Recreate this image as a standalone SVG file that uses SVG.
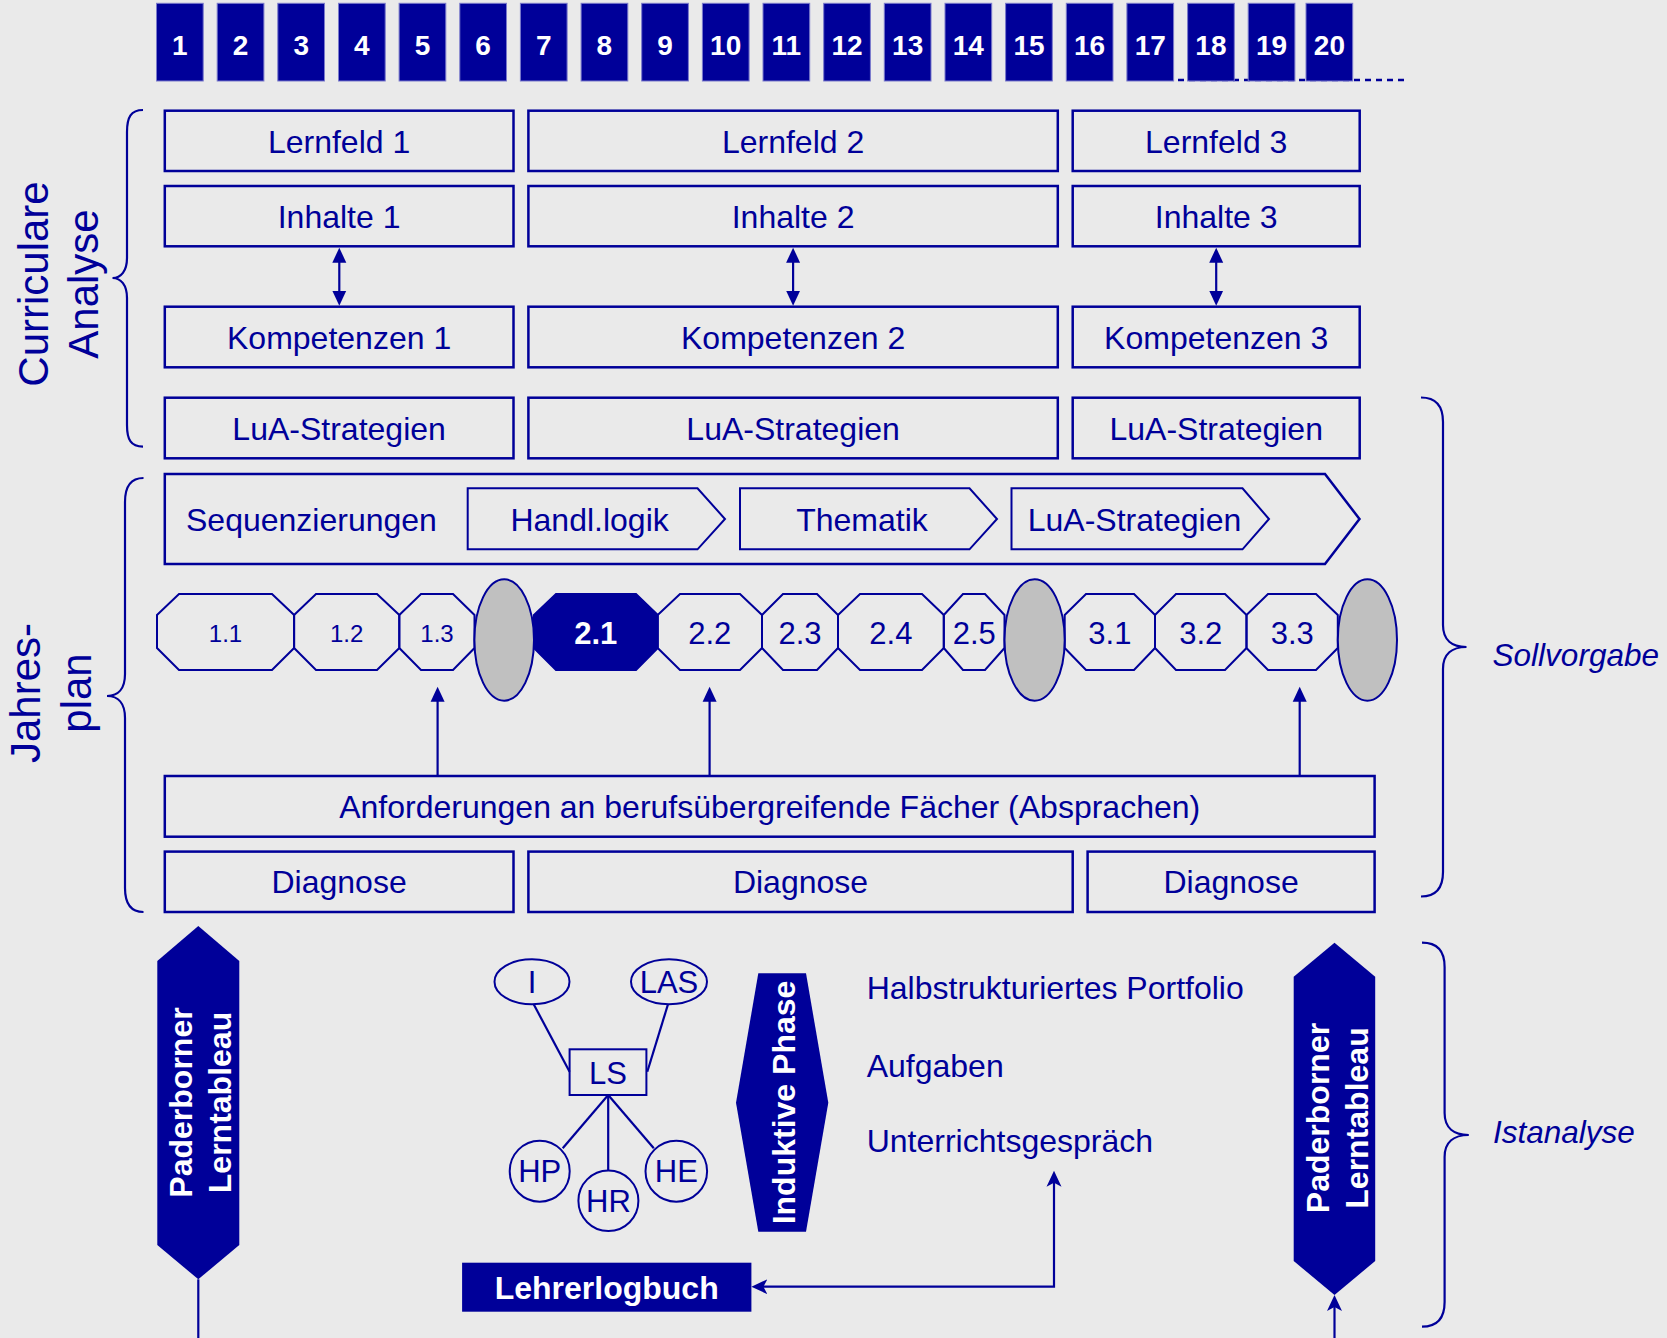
<svg xmlns="http://www.w3.org/2000/svg" width="1667" height="1338" viewBox="0 0 1667 1338">
<style>
.bg{fill:#EAEAEA}
.box{fill:none;stroke:#000099;stroke-width:2.5}
.t{font-family:"Liberation Sans",Arial,sans-serif;font-size:32px;fill:#000099;text-anchor:middle}
.ts{font-size:24px}
.tm{font-size:31px}
.big{font-size:42px}
.it{font-style:italic;text-anchor:start;font-size:31.5px}
.st{text-anchor:start}
.w{fill:#fff;font-weight:bold}
.num rect{fill:#000099;stroke:#7a7acc;stroke-width:1}
.num text{font-family:"Liberation Sans",Arial,sans-serif;fill:#fff;font-weight:bold;font-size:28px;text-anchor:middle}
.fillb{fill:#000099;stroke:none}
.oct{fill:none;stroke:#000099;stroke-width:2}
.ell{fill:#C0C0C0;stroke:#000099;stroke-width:2}
.conn{stroke:#000099;stroke-width:2.2;fill:none}
.brace{stroke:#000099;stroke-width:2.2;fill:none}
.node{fill:none;stroke:#000099;stroke-width:2}
</style>
<defs>
<marker id="tri" markerUnits="userSpaceOnUse" markerWidth="16" markerHeight="16" viewBox="0 0 16 16" refX="7" refY="8" orient="auto-start-reverse">
<path d="M0,1 L15,8 L0,15 z" fill="#000099"/>
</marker>
<marker id="stealth" markerUnits="userSpaceOnUse" markerWidth="17" markerHeight="16" viewBox="0 0 17 16" refX="8" refY="8" orient="auto-start-reverse">
<path d="M0,0.5 L16,8 L0,15.5 L4,8 z" fill="#000099"/>
</marker>
</defs>
<rect class="bg" x="0" y="0" width="1667" height="1338"/>

<!-- week numbers -->
<line x1="1178" y1="80" x2="1407" y2="80" stroke="#000099" stroke-width="2.4" stroke-dasharray="6,5"/>
<g id="weeks" class="num">
<g id="w1"><rect x="156.5" y="3.3" width="46.7" height="77.7"/><text x="179.9" y="55">1</text></g>
<g id="w2"><rect x="217.2" y="3.3" width="46.7" height="77.7"/><text x="240.5" y="55">2</text></g>
<g id="w3"><rect x="277.8" y="3.3" width="46.7" height="77.7"/><text x="301.2" y="55">3</text></g>
<g id="w4"><rect x="338.5" y="3.3" width="46.7" height="77.7"/><text x="361.8" y="55">4</text></g>
<g id="w5"><rect x="399.1" y="3.3" width="46.7" height="77.7"/><text x="422.5" y="55">5</text></g>
<g id="w6"><rect x="459.8" y="3.3" width="46.7" height="77.7"/><text x="483.1" y="55">6</text></g>
<g id="w7"><rect x="520.4" y="3.3" width="46.7" height="77.7"/><text x="543.8" y="55">7</text></g>
<g id="w8"><rect x="581.1" y="3.3" width="46.7" height="77.7"/><text x="604.4" y="55">8</text></g>
<g id="w9"><rect x="641.7" y="3.3" width="46.7" height="77.7"/><text x="665.1" y="55">9</text></g>
<g id="w10"><rect x="702.4" y="3.3" width="46.7" height="77.7"/><text x="725.7" y="55">10</text></g>
<g id="w11"><rect x="763.0" y="3.3" width="46.7" height="77.7"/><text x="786.4" y="55">11</text></g>
<g id="w12"><rect x="823.7" y="3.3" width="46.7" height="77.7"/><text x="847.0" y="55">12</text></g>
<g id="w13"><rect x="884.3" y="3.3" width="46.7" height="77.7"/><text x="907.7" y="55">13</text></g>
<g id="w14"><rect x="945.0" y="3.3" width="46.7" height="77.7"/><text x="968.3" y="55">14</text></g>
<g id="w15"><rect x="1005.6" y="3.3" width="46.7" height="77.7"/><text x="1029.0" y="55">15</text></g>
<g id="w16"><rect x="1066.3" y="3.3" width="46.7" height="77.7"/><text x="1089.6" y="55">16</text></g>
<g id="w17"><rect x="1126.9" y="3.3" width="46.7" height="77.7"/><text x="1150.3" y="55">17</text></g>
<g id="w18"><rect x="1187.6" y="3.3" width="46.7" height="77.7"/><text x="1210.9" y="55">18</text></g>
<g id="w19"><rect x="1248.2" y="3.3" width="46.7" height="77.7"/><text x="1271.6" y="55">19</text></g>
<g id="w20"><rect x="1306" y="3.3" width="46.7" height="77.7"/><text x="1329.4" y="55">20</text></g>
</g>

<!-- side labels -->
<g id="label-curriculare">
<text class="t big" transform="translate(48,284) rotate(-90)">Curriculare</text>
<text class="t big" transform="translate(98,284) rotate(-90)">Analyse</text>
</g>
<g id="label-jahresplan">
<text class="t big" transform="translate(40,693) rotate(-90)">Jahres-</text>
<text class="t big" transform="translate(90.7,693) rotate(-90)">plan</text>
</g>

<!-- braces -->
<g id="braces">
<path class="brace" d="M143,110 C131,110 127,117 127,132 L127,258 C127,271 121,278 112.5,278 C121,278 127,285 127,298 L127,425 C127,440 131,446.7 143,446.7"/>
<path class="brace" d="M143.5,478 C131,478 125,486 125,502 L125,674 C125,689 118,696 107,696 C118,696 125,703 125,718 L125,888 C125,904 131,912 143.5,912"/>
<path class="brace" d="M1421,397.5 C1435,397.5 1443,405 1443,422 L1443,625 C1443,640 1452,647 1466.5,647 C1452,647 1443,654 1443,669 L1443,872 C1443,889 1435,896.5 1421,896.5"/>
<path class="brace" d="M1422,942.7 C1436,942.7 1444.6,950 1444.6,967 L1444.6,1113 C1444.6,1128 1454,1135 1468.8,1135 C1454,1135 1444.6,1142 1444.6,1157 L1444.6,1302 C1444.6,1319 1436,1326.7 1422,1326.7"/>
</g>
<g id="label-sollvorgabe"><text class="t it" x="1492.6" y="666">Sollvorgabe</text></g>
<g id="label-istanalyse"><text class="t it" x="1493" y="1143.3">Istanalyse</text></g>

<!-- curricular rows -->
<g id="lernfeld1"><rect class="box" x="164.8" y="110.7" width="348.7" height="60.3"/><text class="t" x="339.1" y="152.5">Lernfeld 1</text></g>
<g id="lernfeld2"><rect class="box" x="528.4" y="110.7" width="529.4" height="60.3"/><text class="t" x="793.1" y="152.5">Lernfeld 2</text></g>
<g id="lernfeld3"><rect class="box" x="1072.7" y="110.7" width="287" height="60.3"/><text class="t" x="1216.2" y="152.5">Lernfeld 3</text></g>

<g id="inhalte1"><rect class="box" x="164.8" y="186" width="348.7" height="60.3"/><text class="t" x="339.1" y="227.5">Inhalte 1</text></g>
<g id="inhalte2"><rect class="box" x="528.4" y="186" width="529.4" height="60.3"/><text class="t" x="793.1" y="227.5">Inhalte 2</text></g>
<g id="inhalte3"><rect class="box" x="1072.7" y="186" width="287" height="60.3"/><text class="t" x="1216.2" y="227.5">Inhalte 3</text></g>

<g id="kompetenzen1"><rect class="box" x="164.8" y="306.7" width="348.7" height="60.6"/><text class="t" x="339.1" y="348.5">Kompetenzen 1</text></g>
<g id="kompetenzen2"><rect class="box" x="528.4" y="306.7" width="529.4" height="60.6"/><text class="t" x="793.1" y="348.5">Kompetenzen 2</text></g>
<g id="kompetenzen3"><rect class="box" x="1072.7" y="306.7" width="287" height="60.6"/><text class="t" x="1216.2" y="348.5">Kompetenzen 3</text></g>

<g id="lua1"><rect class="box" x="164.8" y="397.7" width="348.7" height="60.6"/><text class="t" x="339.1" y="439.5">LuA-Strategien</text></g>
<g id="lua2"><rect class="box" x="528.4" y="397.7" width="529.4" height="60.6"/><text class="t" x="793.1" y="439.5">LuA-Strategien</text></g>
<g id="lua3"><rect class="box" x="1072.7" y="397.7" width="287" height="60.6"/><text class="t" x="1216.2" y="439.5">LuA-Strategien</text></g>

<!-- Sequenzierungen -->
<g id="sequenzierungen">
<path class="box" d="M164.8,474 L1325,474 L1359.5,519 L1325,564 L164.8,564 Z"/>
<text class="t st" x="186" y="530.5">Sequenzierungen</text>
</g>
<g id="handllogik"><path class="node" d="M467.7,488.3 L697.5,488.3 L725,519 L697.5,549.3 L467.7,549.3 Z"/><text class="t" x="589.6" y="530.5">Handl.logik</text></g>
<g id="thematik"><path class="node" d="M740,488.3 L969.5,488.3 L997,519 L969.5,549.3 L740,549.3 Z"/><text class="t" x="862" y="530.5">Thematik</text></g>
<g id="luasequenz"><path class="node" d="M1011.5,488.3 L1242.5,488.3 L1269,519 L1242.5,549.3 L1011.5,549.3 Z"/><text class="t" x="1134.5" y="530.5">LuA-Strategien</text></g>

<!-- octagon sequence -->
<g id="ls11"><polygon class="oct" points="157,615 179,594 272,594 294.1,615 294.1,648 272,670 179,670 157,648"/><text class="t ts" x="225.5" y="641.5">1.1</text></g>
<g id="ls12"><polygon class="oct" points="294.1,615 316,594 377,594 399.3,615 399.3,648 377,670 316,670 294.1,648"/><text class="t ts" x="346.7" y="641.5">1.2</text></g>
<g id="ls13"><polygon class="oct" points="399.3,615 421,594 453,594 474.5,615 474.5,648 453,670 421,670 399.3,648"/><text class="t ts" x="437" y="641.5">1.3</text></g>
<g id="ls21"><polygon points="534,615 556,594 636,594 657.7,615 657.7,648 636,670 556,670 534,648" fill="#000099" stroke="#000099" stroke-width="2"/><text class="t tm w" x="595.8" y="644">2.1</text></g>
<g id="ls22"><polygon class="oct" points="657.7,615 680,594 740,594 762,615 762,648 740,670 680,670 657.7,648"/><text class="t tm" x="709.8" y="644">2.2</text></g>
<g id="ls23"><polygon class="oct" points="762,615 783,594 817,594 838,615 838,648 817,670 783,670 762,648"/><text class="t tm" x="800" y="644">2.3</text></g>
<g id="ls24"><polygon class="oct" points="838,615 860,594 922,594 943.8,615 943.8,648 922,670 860,670 838,648"/><text class="t tm" x="890.9" y="644">2.4</text></g>
<g id="ls25"><polygon class="oct" points="943.8,615 963,594 985,594 1004.5,615 1004.5,648 985,670 963,670 943.8,648"/><text class="t tm" x="974.2" y="644">2.5</text></g>
<g id="ls31"><polygon class="oct" points="1064.7,615 1086,594 1134,594 1155,615 1155,648 1134,670 1086,670 1064.7,648"/><text class="t tm" x="1109.9" y="644">3.1</text></g>
<g id="ls32"><polygon class="oct" points="1155,615 1176,594 1225,594 1246.5,615 1246.5,648 1225,670 1176,670 1155,648"/><text class="t tm" x="1200.8" y="644">3.2</text></g>
<g id="ls33"><polygon class="oct" points="1246.5,615 1268,594 1316,594 1337.8,615 1337.8,648 1316,670 1268,670 1246.5,648"/><text class="t tm" x="1292.2" y="644">3.3</text></g>
<g id="pause1"><ellipse class="ell" cx="504.2" cy="640" rx="29.8" ry="60.7"/></g>
<g id="pause2"><ellipse class="ell" cx="1034.6" cy="640" rx="30.1" ry="60.7"/></g>
<g id="pause3"><ellipse class="ell" cx="1367.4" cy="640" rx="29.6" ry="60.7"/></g>

<!-- Anforderungen / Diagnose -->
<g id="anforderungen"><rect class="box" x="164.8" y="776" width="1209.8" height="60.7"/><text class="t" x="769.7" y="817.5">Anforderungen an berufsübergreifende Fächer (Absprachen)</text></g>
<g id="diagnose1"><rect class="box" x="164.8" y="851.6" width="348.7" height="60.4"/><text class="t" x="339.1" y="893">Diagnose</text></g>
<g id="diagnose2"><rect class="box" x="528.4" y="851.6" width="544.3" height="60.4"/><text class="t" x="800.5" y="893">Diagnose</text></g>
<g id="diagnose3"><rect class="box" x="1087.6" y="851.6" width="287" height="60.4"/><text class="t" x="1231.1" y="893">Diagnose</text></g>

<!-- bottom section -->
<g id="paderborner-left">
<polygon class="fillb" points="198.3,926 239.3,961 239.3,1245 198.3,1279.3 157.3,1245 157.3,961"/>
<text class="t w" transform="translate(192,1102.5) rotate(-90)">Paderborner</text>
<text class="t w" transform="translate(231,1102.5) rotate(-90)">Lerntableau</text>
</g>
<g id="paderborner-right">
<polygon class="fillb" points="1334.5,942.7 1375.2,976.7 1375.2,1261 1334.5,1295 1293.7,1261 1293.7,976.7"/>
<text class="t w" transform="translate(1329,1118) rotate(-90)">Paderborner</text>
<text class="t w" transform="translate(1368,1118) rotate(-90)">Lerntableau</text>
</g>
<g id="induktive-phase">
<polygon class="fillb" points="758.3,973.3 806,973.3 828.3,1102.7 806,1231.7 758.3,1231.7 736,1102.7"/>
<text class="t w" transform="translate(795,1102.5) rotate(-90)">Induktive Phase</text>
</g>
<g id="node-I"><ellipse class="node" cx="532" cy="981.8" rx="37.5" ry="22.5"/><text class="t tm" x="532" y="992.5">I</text></g>
<g id="node-LAS"><ellipse class="node" cx="669" cy="981.8" rx="38" ry="22.5"/><text class="t tm" x="669" y="992.5">LAS</text></g>
<g id="node-LS"><rect class="node" x="569.6" y="1049.3" width="76.8" height="45.7"/><text class="t tm" x="608" y="1083.5">LS</text></g>
<g id="node-HP"><ellipse class="node" cx="539.7" cy="1171.2" rx="30" ry="30.5"/><text class="t tm" x="539.7" y="1182">HP</text></g>
<g id="node-HR"><ellipse class="node" cx="608.4" cy="1200.8" rx="30" ry="30.3"/><text class="t tm" x="608.4" y="1211.8">HR</text></g>
<g id="node-HE"><ellipse class="node" cx="676.3" cy="1171.2" rx="30.8" ry="30.5"/><text class="t tm" x="676.3" y="1182">HE</text></g>
<g id="halbstrukturiert"><text class="t st" x="866.7" y="999">Halbstrukturiertes Portfolio</text></g>
<g id="aufgaben"><text class="t st" x="866.7" y="1076.5">Aufgaben</text></g>
<g id="unterrichtsgespraech"><text class="t st" x="866.7" y="1152.3">Unterrichtsgespräch</text></g>
<g id="lehrerlogbuch"><rect class="fillb" x="462.1" y="1262.7" width="289.3" height="49"/><text class="t w" x="606.7" y="1298.8">Lehrerlogbuch</text></g>

<!-- connectors -->
<g id="connectors">
<line class="conn" x1="339.3" y1="255.7" x2="339.3" y2="297.7" marker-start="url(#tri)" marker-end="url(#tri)"/>
<line class="conn" x1="793.1" y1="255.7" x2="793.1" y2="297.7" marker-start="url(#tri)" marker-end="url(#tri)"/>
<line class="conn" x1="1216.2" y1="255.7" x2="1216.2" y2="297.7" marker-start="url(#tri)" marker-end="url(#tri)"/>
<line class="conn" x1="437.6" y1="776" x2="437.6" y2="694.7" marker-end="url(#tri)"/>
<line class="conn" x1="709.6" y1="776" x2="709.6" y2="694.7" marker-end="url(#tri)"/>
<line class="conn" x1="1299.7" y1="776" x2="1299.7" y2="694.7" marker-end="url(#tri)"/>
<line class="conn" x1="533.7" y1="1004.3" x2="569.6" y2="1071.7"/>
<line class="conn" x1="668" y1="1004.3" x2="647.3" y2="1071.7"/>
<line class="conn" x1="608.2" y1="1095" x2="562.7" y2="1148.3"/>
<line class="conn" x1="608.2" y1="1095" x2="608.2" y2="1170.5"/>
<line class="conn" x1="608.2" y1="1095" x2="653.8" y2="1148.3"/>
<path class="conn" d="M759.4,1286.7 L1054,1286.7 L1054,1178.7" marker-start="url(#stealth)" marker-end="url(#stealth)"/>
<line class="conn" x1="1334.5" y1="1338" x2="1334.5" y2="1303" marker-end="url(#stealth)"/>
<line class="conn" x1="198.3" y1="1279.3" x2="198.3" y2="1338"/>
</g>
</svg>
